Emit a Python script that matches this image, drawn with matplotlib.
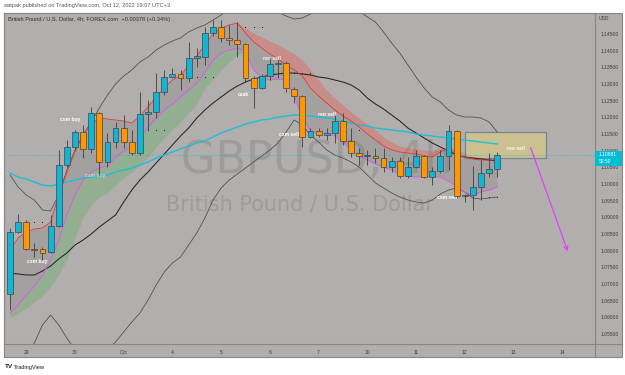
import numpy as np
import matplotlib
matplotlib.use("Agg")
import matplotlib.pyplot as plt
from matplotlib.patches import Rectangle
from matplotlib.lines import Line2D

plt.rcParams['font.family'] = ['Liberation Sans', 'DejaVu Sans']

# GBPUSD 4h candles
opens = [1.0670, 1.0856, 1.0886, 1.0805, 1.0805, 1.0796, 1.0874, 1.1057, 1.1111, 1.1156,
         1.1105, 1.1213, 1.1066, 1.1126, 1.1168, 1.1126, 1.1093, 1.1210, 1.1216, 1.1276,
         1.1321, 1.1330, 1.1318, 1.1378, 1.1381, 1.1453, 1.1471, 1.1438, 1.1432, 1.1420,
         1.1318, 1.1288, 1.1324, 1.1360, 1.1363, 1.1285, 1.1264, 1.1141, 1.1159, 1.1147,
         1.1153, 1.1189, 1.1129, 1.1093, 1.1084, 1.1084, 1.1078, 1.1051, 1.1069, 1.1024,
         1.1051, 1.1084, 1.1021, 1.1039, 1.1084, 1.1159, 1.0964, 1.0967, 1.0991, 1.1033, 1.1045]
closes = [1.0856, 1.0886, 1.0805, 1.0803, 1.0793, 1.0874, 1.1057, 1.1111, 1.1156, 1.1105,
          1.1213, 1.1066, 1.1126, 1.1168, 1.1126, 1.1093, 1.1210, 1.1216, 1.1276, 1.1321,
          1.1330, 1.1318, 1.1378, 1.1384, 1.1453, 1.1471, 1.1438, 1.1432, 1.1420, 1.1318,
          1.1288, 1.1324, 1.1360, 1.1363, 1.1288, 1.1264, 1.1141, 1.1159, 1.1147, 1.1153,
          1.1189, 1.1129, 1.1093, 1.1084, 1.1086, 1.1078, 1.1051, 1.1069, 1.1024, 1.1051,
          1.1084, 1.1021, 1.1039, 1.1084, 1.1159, 1.0964, 1.0967, 1.0991, 1.1033, 1.1045, 1.10881]
highs = [1.0868, 1.0910, 1.0892, 1.0823, 1.0811, 1.0907, 1.1102, 1.1132, 1.1162, 1.1177,
         1.1231, 1.1216, 1.1153, 1.1186, 1.1207, 1.1162, 1.1276, 1.1252, 1.1333, 1.1342,
         1.1348, 1.1342, 1.1426, 1.1408, 1.1471, 1.1492, 1.1492, 1.1477, 1.1486, 1.1423,
         1.1324, 1.1330, 1.1378, 1.1372, 1.1369, 1.1291, 1.1267, 1.1168, 1.1168, 1.1168,
         1.1207, 1.1213, 1.1168, 1.1108, 1.1102, 1.1108, 1.1108, 1.1081, 1.1081, 1.1081,
         1.1102, 1.1087, 1.1051, 1.1102, 1.1177, 1.1162, 1.0970, 1.1054, 1.1072, 1.1093, 1.1096]
lows = [1.0622, 1.0853, 1.0802, 1.0781, 1.0772, 1.0793, 1.0871, 1.1051, 1.1102, 1.1078,
        1.1093, 1.1027, 1.1051, 1.1108, 1.1108, 1.1087, 1.1087, 1.1162, 1.1198, 1.1267,
        1.1318, 1.1282, 1.1306, 1.1351, 1.1357, 1.1444, 1.1426, 1.1417, 1.1381, 1.1306,
        1.1228, 1.1285, 1.1312, 1.1318, 1.1276, 1.1243, 1.1111, 1.1138, 1.1141, 1.1132,
        1.1123, 1.1117, 1.1081, 1.1057, 1.1057, 1.1063, 1.1036, 1.1036, 1.1018, 1.1018,
        1.1048, 1.1018, 1.0997, 1.1033, 1.1042, 1.0958, 1.0946, 1.0922, 1.0952, 1.1021, 1.1021]

# indicator lines, one value per bar
upper_band = [1.1027, 1.0991, 1.0967, 1.0952, 1.0922, 1.0919, 1.0967, 1.1042, 1.1102, 1.1147,
              1.1186, 1.1228, 1.1267, 1.1300, 1.1324, 1.1342, 1.1366, 1.1381, 1.1402, 1.1417,
              1.1429, 1.1438, 1.1456, 1.1468, 1.1477, 1.1492, 1.1507, 1.1525, 1.1537, 1.1546,
              1.1549, 1.1543, 1.1531, 1.1516, 1.1504, 1.1495, 1.1498, 1.1510, 1.1522, 1.1531,
              1.1537, 1.1537, 1.1531, 1.1519, 1.1501, 1.1486, 1.1456, 1.1423, 1.1393, 1.1357,
              1.1321, 1.1288, 1.1261, 1.1246, 1.1222, 1.1207, 1.1201, 1.1201, 1.1198, 1.1186, 1.1156]
mid_line = [1.0733, 1.0730, 1.0727, 1.0727, 1.0739, 1.0754, 1.0775, 1.0793, 1.0817, 1.0832,
            1.0850, 1.0871, 1.0889, 1.0907, 1.0946, 1.0982, 1.1012, 1.1036, 1.1063, 1.1090,
            1.1117, 1.1144, 1.1168, 1.1198, 1.1222, 1.1243, 1.1261, 1.1279, 1.1294, 1.1306,
            1.1315, 1.1321, 1.1327, 1.1330, 1.1333, 1.1333, 1.1330, 1.1327, 1.1321, 1.1318,
            1.1312, 1.1306, 1.1297, 1.1282, 1.1258, 1.1240, 1.1225, 1.1207, 1.1189, 1.1168,
            1.1153, 1.1138, 1.1123, 1.1111, 1.1099, 1.1087, 1.1081, 1.1078, 1.1075, 1.1072, 1.1069]
lower_band = [1.0412, 1.0448, 1.0481, 1.0523, 1.0577, 1.0607, 1.0577, 1.0538, 1.0502, 1.0472,
              1.0466, 1.0478, 1.0502, 1.0526, 1.0556, 1.0586, 1.0613, 1.0652, 1.0697, 1.0736,
              1.0763, 1.0781, 1.0817, 1.0853, 1.0898, 1.0952, 1.0988, 1.1012, 1.1030, 1.1048,
              1.1066, 1.1084, 1.1102, 1.1123, 1.1156, 1.1192, 1.1177, 1.1147, 1.1126, 1.1102,
              1.1087, 1.1078, 1.1066, 1.1051, 1.1027, 1.1003, 1.0988, 1.0973, 1.0961, 1.0952,
              1.0946, 1.0943, 1.0952, 1.0970, 1.0982, 1.0988, 1.0976, 1.0958, 1.0955, 1.0958, 1.0961]
long_ma = [1.1033, 1.1021, 1.1015, 1.1006, 1.0997, 1.0994, 1.1000, 1.1006, 1.1012, 1.1018,
           1.1021, 1.1024, 1.1027, 1.1036, 1.1042, 1.1048, 1.1057, 1.1066, 1.1078, 1.1087,
           1.1096, 1.1105, 1.1114, 1.1123, 1.1129, 1.1141, 1.1153, 1.1162, 1.1171, 1.1180,
           1.1186, 1.1192, 1.1195, 1.1201, 1.1204, 1.1207, 1.1207, 1.1204, 1.1201, 1.1198,
           1.1195, 1.1189, 1.1183, 1.1177, 1.1174, 1.1168, 1.1165, 1.1162, 1.1159, 1.1156,
           1.1150, 1.1147, 1.1144, 1.1141, 1.1138, 1.1135, 1.1132, 1.1129, 1.1126, 1.1123, 1.1120]
fast_line = [1.0802, 1.0838, 1.0856, 1.0865, 1.0868, 1.0886, 1.0967, 1.1033, 1.1096, 1.1147,
             1.1180, 1.1198, 1.1195, 1.1192, 1.1189, 1.1183, 1.1204, 1.1231, 1.1261, 1.1288,
             1.1312, 1.1324, 1.1357, 1.1384, 1.1417, 1.1450, 1.1468, 1.1477, 1.1483, 1.1453,
             1.1426, 1.1408, 1.1390, 1.1375, 1.1357, 1.1342, 1.1324, 1.1288, 1.1264, 1.1243,
             1.1222, 1.1204, 1.1189, 1.1171, 1.1150, 1.1132, 1.1114, 1.1102, 1.1096, 1.1093,
             1.1090, 1.1084, 1.1081, 1.1096, 1.1108, 1.1087, 1.1081, 1.1075, 1.1072, 1.1072, 1.1072]
slow_line = [1.0613, 1.0637, 1.0667, 1.0694, 1.0727, 1.0772, 1.0832, 1.0907, 1.0967, 1.1012,
             1.1036, 1.1048, 1.1054, 1.1081, 1.1099, 1.1111, 1.1138, 1.1171, 1.1198, 1.1222,
             1.1240, 1.1261, 1.1282, 1.1303, 1.1336, 1.1372, 1.1393, 1.1402, 1.1408, 1.1399,
             1.1342, 1.1318, 1.1312, 1.1315, 1.1312, 1.1264, 1.1198, 1.1159, 1.1150, 1.1153,
             1.1144, 1.1126, 1.1102, 1.1084, 1.1072, 1.1060, 1.1051, 1.1042, 1.1030, 1.1024,
             1.1021, 1.1021, 1.1024, 1.1021, 1.1009, 1.0994, 1.0976, 1.0967, 1.0976, 1.0982, 1.0991]
# lower edge of the green cloud (bars 0-29) and upper edge of the red cloud (bars 28-60)
green_edge = [1.0598, 1.0613, 1.0628, 1.0646, 1.0664, 1.0691, 1.0727, 1.0772, 1.0838, 1.0898,
              1.0937, 1.0961, 1.0973, 1.0997, 1.1018, 1.1036, 1.1057, 1.1081, 1.1111, 1.1138,
              1.1162, 1.1186, 1.1213, 1.1240, 1.1288, 1.1312, 1.1342, 1.1366, 1.1387, 1.1399]
pink_edge = [1.1483, 1.1468, 1.1453, 1.1441, 1.1429, 1.1417, 1.1405, 1.1390, 1.1372, 1.1342,
             1.1312, 1.1282, 1.1258, 1.1237, 1.1216, 1.1198, 1.1180, 1.1162, 1.1141, 1.1126,
             1.1114, 1.1108, 1.1105, 1.1102, 1.1099, 1.1102, 1.1114, 1.1102, 1.1093, 1.1084,
             1.1078, 1.1075, 1.1075]

# signal dots
dot_bars = [3, 4, 5, 17, 18, 19, 23, 24, 25, 29, 30, 31, 35, 36, 37, 43, 58, 59, 60]
dot_prices = [1.0886, 1.0886, 1.0886, 1.1162, 1.1162, 1.1162, 1.1321, 1.1321, 1.1321,
              1.1471, 1.1471, 1.1471, 1.1333, 1.1333, 1.1333, 1.1162, 1.0961, 1.0961, 1.0961]

# signal labels
label_texts = ["csm buy", "csm buy", "csm buy", "csak", "reo sell", "csm sell", "reo sell", "csm sell", "reo sell"]
label_bars = [7.4, 10.5, 3.3, 28.7, 32.3, 34.4, 39.0, 53.8, 62.3]
label_prices = [1.1192, 1.1027, 1.0766, 1.1270, 1.1378, 1.1147, 1.1210, 1.0958, 1.1108]
label_alpha = [1, 0.5, 1, 1, 0.85, 1, 1, 1, 0.9]

day_labels = ["29", "30", "Oct", "4", "5", "6", "7", "10", "11", "12", "13", "14"]
day_bars = [2, 8, 14, 20, 26, 32, 38, 44, 50, 56, 62, 68]

# supply zone and projected move
zone_bars = [56.0, 66.0]
zone_prices = [1.1078, 1.1156]
arrow_bars = [64.0, 68.8]
arrow_prices = [1.1117, 1.0790]

opens = np.array(opens); closes = np.array(closes)
highs = np.array(highs); lows = np.array(lows)
idx = np.arange(len(closes))

W, H = 625, 375
fig = plt.figure(figsize=(6.25, 3.75), dpi=100, facecolor='white')


def fx(px):
    return px / W


def fy(py):
    return 1 - py / H


bg = '#b3aeae'
frame = '#8a8585'
fig.patches.append(Rectangle((fx(4), fy(357)), fx(622) - fx(4), fy(13) - fy(357),
                             transform=fig.transFigure, facecolor=bg, edgecolor=frame,
                             lw=0.8, zorder=-5))

ax = fig.add_axes([fx(4), fy(344), fx(595) - fx(4), fy(13) - fy(344)])
ax.set_facecolor(bg)
ax.set_xlim(-0.74, 72.04)
ax.set_ylim(1.0520, 1.1513)
for s in ax.spines.values():
    s.set_color(frame)
    s.set_linewidth(0.8)

# axes ticks
ax.yaxis.tick_right()
yt = np.arange(1.055, 1.1451, 0.005)
ax.set_yticks(yt, [f"{v:.5f}" for v in yt])
ax.tick_params(axis='y', length=0, pad=3.8, labelsize=3.6, labelcolor='#3c3c3c')
ax.set_xticks(day_bars, day_labels)
ax.tick_params(axis='x', length=0, pad=4.2, labelsize=3.6, labelcolor='#3c3c3c')

fig.add_artist(Line2D([fx(595), fx(622)], [fy(344), fy(344)], color=frame, lw=0.8))
fig.add_artist(Line2D([fx(595), fx(595)], [fy(344), fy(357)], color=frame, lw=0.8))

# watermark
ax.text(0.2995, 0.555, "GBPUSD, 4h", transform=ax.transAxes, fontsize=32,
        family='DejaVu Sans', color='#a09b9b', ha='left', va='center', zorder=0.5)
ax.text(0.274, 0.42, "British Pound / U.S. Dollar", transform=ax.transAxes, fontsize=15,
        family='DejaVu Sans', color='#a09b9b', ha='left', va='center', zorder=0.5)

# clouds
ax.fill_between(idx, fast_line, slow_line, color='#5c5757', alpha=0.16, lw=0, zorder=1)
ax.fill_between(idx[:30], slow_line[:30], green_edge, color='#4caf50', alpha=0.3, lw=0, zorder=1)
ax.fill_between(idx[28:], fast_line[28:], pink_edge, color='#f44336', alpha=0.3, lw=0, zorder=1)

# zone box
ax.add_patch(Rectangle((zone_bars[0], zone_prices[0]), zone_bars[1] - zone_bars[0],
                       zone_prices[1] - zone_prices[0], facecolor='#dccf7c', alpha=0.6,
                       edgecolor='none', zorder=1.2))
ax.add_patch(Rectangle((zone_bars[0], zone_prices[0]), zone_bars[1] - zone_bars[0],
                       zone_prices[1] - zone_prices[0], facecolor='none',
                       edgecolor='#75849a', lw=0.9, zorder=1.3))

# lines
ax.plot(idx, upper_band, color='#555151', lw=0.6, zorder=2)
ax.plot(idx, lower_band, color='#555151', lw=0.6, zorder=2)
ax.plot(idx, mid_line, color='#262424', lw=0.75, zorder=2)
ax.plot(idx, long_ma, color='#1cbfd4', lw=1.0, zorder=2)
ax.plot(idx, fast_line, color='#e53935', lw=0.6, zorder=2)
ax.plot(idx, slow_line, color='#d45ee6', lw=0.7, zorder=2)
ax.axhline(closes[-1], color='#1fb8cf', lw=0.5, ls=(0, (1, 1.5)), zorder=2)

# labels
for t, b, p, a in zip(label_texts, label_bars, label_prices, label_alpha):
    ax.text(b, p, t, color='white', fontsize=3.6, fontweight='bold', alpha=a,
            ha='center', va='center', zorder=2.5)

ax.scatter(dot_bars, dot_prices, s=0.5, color='#1a1a1a', zorder=2.6, linewidths=0)

# candles
colors = np.where(closes >= opens, '#12b5d3', '#ff9800')
ax.vlines(idx, lows, highs, color='#3d3d3d', lw=0.6, zorder=3)
body_lo = np.minimum(opens, closes)
body_h = np.maximum(np.abs(closes - opens), 0.00008)
ax.bar(idx, body_h, bottom=body_lo, width=0.72, color=colors,
       edgecolor='#444444', linewidth=0.5, zorder=4)

# projected move
ax.annotate('', xy=(arrow_bars[1], arrow_prices[1]), xytext=(arrow_bars[0], arrow_prices[0]),
            arrowprops=dict(arrowstyle='->', color='#e040fb', lw=0.9, mutation_scale=7),
            zorder=5)

# last price tag
fig.patches.append(Rectangle((fx(595), fy(166)), fx(622) - fx(595), fy(151) - fy(166),
                             transform=fig.transFigure, facecolor='#00bcd4',
                             edgecolor='none', zorder=5))
fig.text(fx(599), fy(155), f"{closes[-1]:.5f}", fontsize=3.6, color='white', va='center', zorder=6)
fig.text(fx(599), fy(162), "52:50", fontsize=3.6, color='white', va='center', zorder=6)
fig.text(fx(599), fy(18), "USD", fontsize=3.6, color='#3c3c3c', va='center')

# header and footer
fig.text(fx(3), fy(6), "watpak published on TradingView.com, Oct 12, 2022 19:07 UTC+3",
         fontsize=4.1, color='#555555', va='center')
fig.text(fx(8), fy(19), "British Pound / U.S. Dollar, 4h, FOREX.com  +0.00378 (+0.34%)",
         fontsize=4.1, color='#2e2e2e', va='center', zorder=6)
fig.text(fx(5), fy(367), "TV", fontsize=4.6, fontweight='bold', color='#131722', va='center')
fig.text(fx(14), fy(367), "TradingView", fontsize=4.1, color='#131722', va='center')

fig.savefig("out.png", dpi=100, facecolor='white')
